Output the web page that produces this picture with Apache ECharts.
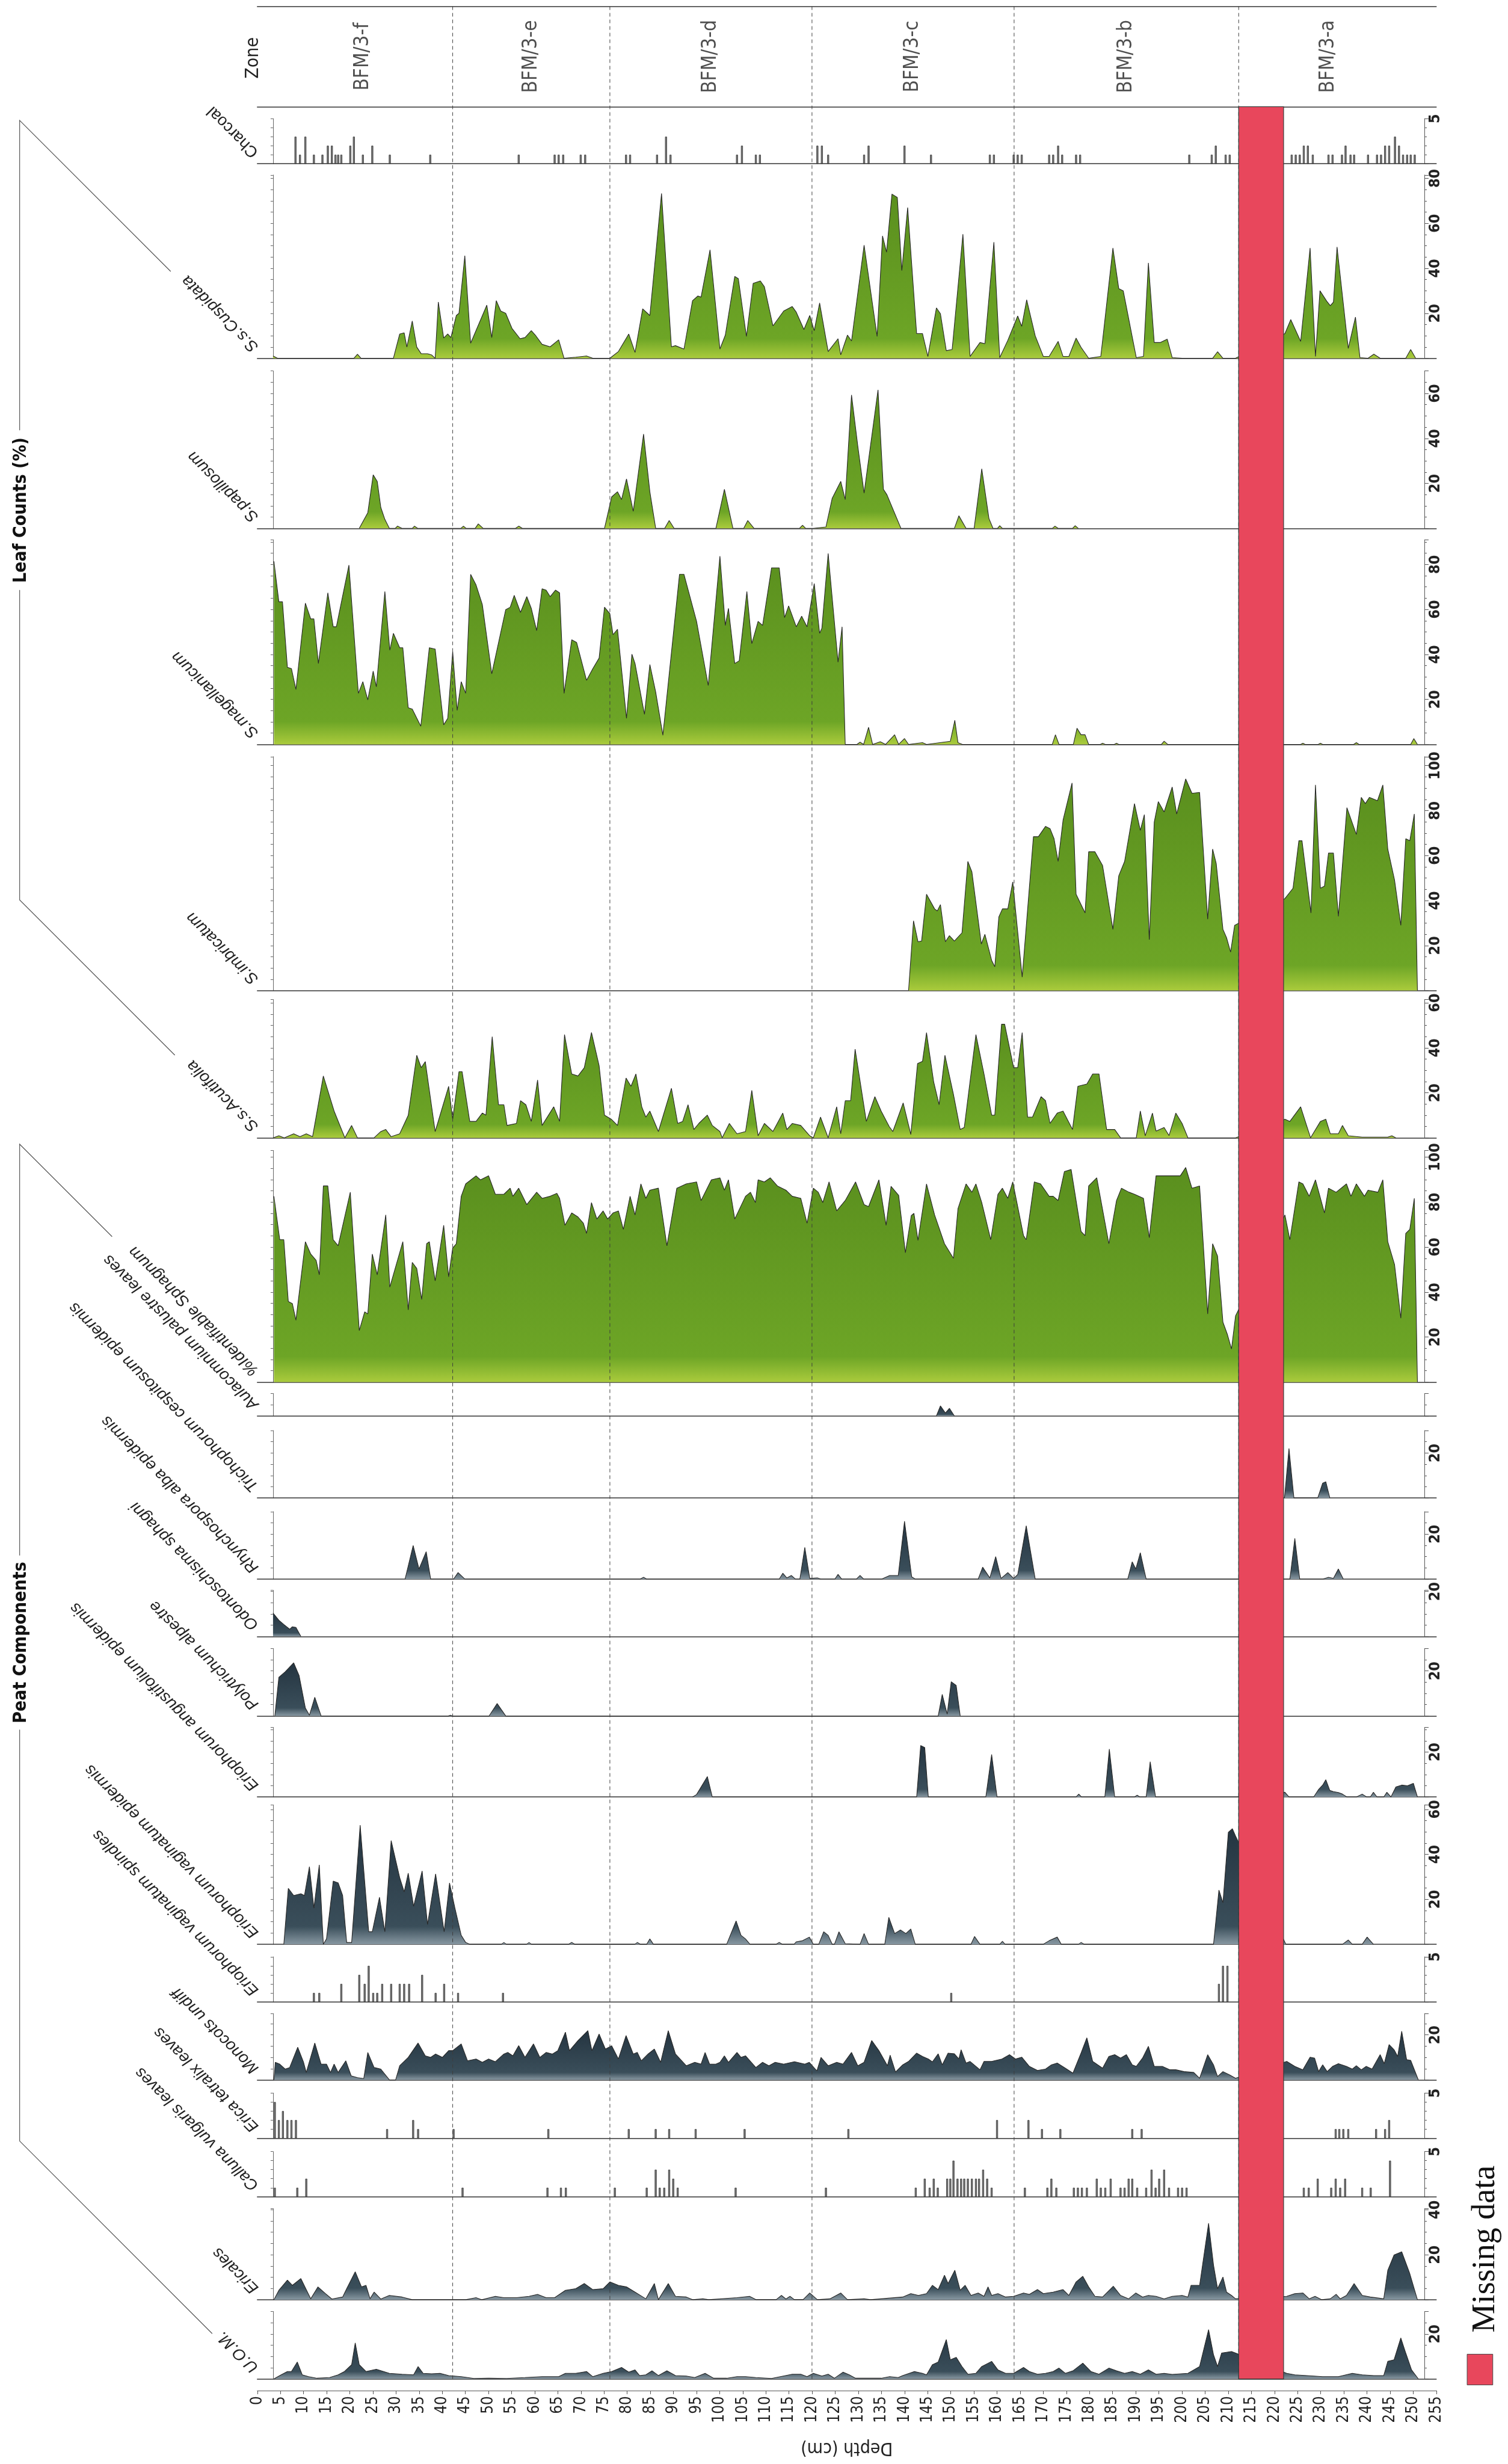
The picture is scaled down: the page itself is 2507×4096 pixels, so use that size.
<!DOCTYPE html>
<html><head><meta charset="utf-8">
<script src="https://cdn.jsdelivr.net/npm/echarts/dist/echarts.min.js"></script>
<style>html,body{margin:0;padding:0;background:#fff}#c{width:2507px;height:4096px}</style>
</head><body><div id="c"></div>
<script>
// ---------------- DATA ----------------
const zoneNames = ['BFM/3-f','BFM/3-e','BFM/3-d','BFM/3-c','BFM/3-b','BFM/3-a'];
const zoneMid = [20, 57.5, 97.5, 142.5, 190, 235];
const zoneBounds = [40, 75, 120, 165, 215];
const missingRange = [215, 225];
const depthMin = 0, depthMax = 255, depthStep = 5;

const taxa = ['Charcoal','S.s.Cuspidata','S.papillosum','S.magellanicum','S.imbricatum','S.s.Acutifolia',
 '%Identifiable Sphagnum','Aulacomnium palustre leaves','Trichophorum cespitosum epidermis','Rhynchospora alba epidermis',
 'Odontoschisma sphagni','Polytrichum alpestre','Eriophorum angustifolium epidermis','Eriophorum vaginatum epidermis',
 'Eriophorum vaginatum spindles','Monocots undiff','Erica tetralix leaves','Calluna vulgaris leaves','Ericales','U.O.M.'];
const axisMax  = [5, 81.5, 70, 91, 104, 61.5, 103, 10, 30, 30, 20.5, 30, 31, 62, 5, 29.5, 5, 5, 40.5, 30];
const axisStep = [5, 20, 20, 20, 20, 20, 20, 20, 20, 20, 20, 20, 20, 20, 5, 20, 5, 5, 20, 20];

const charcoal = [[5,3],[6,1],[7.2,3],[9.1,1],[11,1],[12.2,2],[13.1,2],[13.9,1],[14.5,1],[15.2,1],[17.2,2],[18,3],[20,1],[22.1,2],[26,1],[35,1],[54.7,1],[62.7,1],[63.6,1],[64.6,1],[68.5,1],[69.5,1],[78.6,1],[79.5,1],[85.5,1],[87.5,3],[88.5,1],[103.3,1],[104.4,2],[107.5,1],[108.4,1],[121.2,2],[122.2,2],[123.6,1],[131.6,1],[132.6,2],[140.6,2],[146.5,1],[159.6,1],[160.5,1],[164.9,1],[165.8,1],[166.7,1],[172.8,1],[173.7,1],[174.8,2],[175.7,1],[178.8,1],[179.7,1],[204,1],[209,1],[209.9,2],[212.1,1],[213,1],[226.8,1],[227.7,1],[228.6,1],[229.5,2],[230.4,2],[231.5,1],[235,1],[235.9,1],[238,1],[238.8,2],[239.9,1],[240.7,1],[243.8,1],[245.8,1],[246.7,1],[247.6,2],[248.5,2],[249.8,3],[250.7,2],[251.6,1],[252.5,1],[253.3,1],[254.2,1]];

const cuspidata = [[0,1],[1,0],[18,0],[18.8,1.8],[19.6,0],[26.8,0],[28.2,10.8],[29.2,11.3],[29.8,5],[31,16.6],[32,5],[33,2],[34.4,2],[35.3,1.5],[36.1,0],[36.8,25],[38,9],[38.9,10.8],[39.6,9.2],[40.8,19],[41.4,20],[42.7,45.6],[44,6.7],[47.6,23.6],[48.7,9.2],[49.7,25.6],[50.7,21],[51.8,20],[53.2,13.3],[55,8.7],[56.1,9.2],[57.5,12.3],[58.4,10.3],[59.9,6.2],[61.7,5.1],[63.6,8.2],[64.8,0],[67.4,0.5],[69.8,1],[71.2,0],[75,0],[76.9,3],[79.2,10.8],[80.6,2.6],[82.3,22],[83.9,19],[86.5,73.3],[88.7,5.1],[89.6,5.6],[91.5,4.1],[93.4,25.6],[94.6,27.7],[95.3,27.2],[97.3,48.2],[99.5,4.1],[100.7,10.3],[102.8,36.4],[103.6,35.4],[105.4,9.7],[106.9,33.3],[108.5,34.4],[109.4,31.8],[111.3,14.4],[113.7,21],[115.6,23],[116.5,20.5],[118.2,12.8],[119.5,19],[120.5,12.3],[121.7,24.6],[123.6,3],[125.8,8.7],[126.4,1.5],[127.9,10.3],[128.8,7.7],[131.6,50.3],[134.5,9.7],[135.7,54.4],[136.6,47.2],[137.8,73],[139,71.5],[140,39],[141.3,67],[143.3,11],[144.6,11],[145.8,0.8],[147.7,22.4],[148.6,19.8],[149.9,3.4],[151.2,3.9],[153.6,55.2],[155.2,0.8],[157.4,7],[158.5,6.5],[160.5,51.6],[161.8,0.3],[163.6,8],[165.8,18.8],[166.7,14.2],[167.8,26],[169.7,10],[171.5,0.8],[172.8,0.8],[174.8,7.5],[175.9,0.8],[177.2,0.8],[178.8,9],[179.9,4.9],[181.6,0],[184.3,0.8],[187,49],[188.3,31],[189.3,30],[192.2,0.3],[193.8,0.8],[194.9,42.4],[196.2,7],[197.5,7],[199.1,8.5],[200.2,0.3],[202.4,0],[209.2,0],[210.3,2.9],[211.5,0],[214.3,0],[225.3,11],[226.6,17.2],[228.8,7.5],[230.9,49],[232.1,0.8],[233.1,30],[234.6,25.4],[235.4,23.4],[236.1,25],[236.9,49.5],[239.4,4.4],[241,18.3],[242,0.3],[243.8,0],[245.1,1.8],[246.5,0],[252.2,0],[253.3,3.9],[254.4,0]];

const papillosum = [[19.2,0],[21.1,7],[22.3,23.8],[23.2,20.9],[24,9.3],[24.9,4],[25.9,0],[27.2,0],[27.7,1],[28.7,0],[31,0],[31.5,1],[32.2,0],[41.8,0],[42.4,1],[43,0],[45,0],[45.7,2],[46.8,0],[54,0],[54.7,1],[55.5,0],[73.8,0],[75.4,14],[76.7,16.3],[77.6,12.8],[78.7,22],[80.2,7.6],[82.5,41.9],[83.9,16.3],[85.2,0],[87.2,0],[88.2,3.5],[89.3,0],[98.6,0],[100.5,17.4],[102.4,0],[104.8,0],[105.7,3.5],[107.1,0],[117.2,0],[117.9,1.4],[118.6,0],[120.3,0],[123.1,0.6],[124.5,13.4],[126.4,20.9],[127.4,12.8],[128.8,59.3],[130.2,36.6],[131.6,15.7],[134.7,61.6],[135.9,17.4],[136.7,14.9],[139.8,0],[151.7,0],[152.7,5.6],[154.3,0],[156.1,0],[157.8,26.5],[159.4,4.4],[160.3,0],[161.3,0],[161.8,1.2],[162.4,0],[173.5,0],[174.1,1],[174.8,0],[178,0],[178.6,1.2],[179.3,0]];

const magellanicum = [[0.2,81.4],[1.3,63.4],[2.1,63.4],[3.2,34.3],[4.1,33.7],[5.1,24.4],[7.2,62.8],[8.4,55.8],[9.1,55.8],[10.1,36],[12.2,67.4],[13.4,52.3],[14.1,52.3],[16.9,79.7],[19,22.7],[20,27.9],[21.1,19.8],[22.3,32.6],[23,25.6],[24.9,68],[26,41.9],[26.8,49.4],[28.2,43],[28.9,43],[30.1,16.3],[31,15.7],[32.9,8.1],[34.8,43],[36.1,42.4],[38,8.7],[38.9,11.6],[40,41.3],[41,15.1],[41.9,27.9],[42.9,22.7],[44,75.6],[45.2,70.9],[46.6,62.2],[48.7,31.4],[51.8,59.9],[52.8,61],[53.7,66.3],[55.1,58.7],[56.5,65.7],[57.5,60.5],[58.7,50.6],[59.9,69.2],[60.8,68.6],[61.7,65.7],[62.9,68.6],[63.8,67.4],[64.8,22.7],[66.5,46.5],[67.6,45.3],[69.8,28.5],[71.2,33.7],[72.6,38.4],[73.8,61],[75,58.1],[75.7,48.8],[76.7,51.2],[78.7,11.6],[79.9,40.1],[80.6,36],[82.7,13.4],[83.9,35.5],[85.2,23.3],[86.8,4.1],[90.5,75.6],[91.5,75.6],[94.3,54.7],[96.9,26.2],[99.5,83.7],[100.7,52.9],[101.4,60.5],[102.8,36],[103.8,37.2],[105.5,68],[106.6,44.8],[108,54.7],[109,52.9],[111,78.5],[112.7,78.5],[113.9,56.4],[114.8,61.6],[116.5,52.3],[117.7,57],[118.9,52.3],[120.5,71.5],[121.7,49.4],[122.2,51.7],[123.6,84.9],[125.8,36.6],[126.7,52.3],[127.4,0],[130,0],[130.7,1],[131.5,0],[132.6,7.6],[133.5,0],[135.2,1.2],[136.4,0],[138.4,4.3],[139.3,0],[140.6,2.6],[141.5,0],[144.6,0.8],[145.5,0],[150.8,1.4],[151.8,10.7],[152.5,0.8],[153.5,0],[173.5,0],[174.2,4.3],[175,0],[178.2,0],[179,7.2],[179.9,4.3],[180.8,4.3],[181.6,0],[184.2,0],[184.7,0.5],[185.3,0],[187.3,0],[187.8,0.5],[188.3,0],[197.8,0],[198.4,1.4],[199.2,0],[228.8,0],[229.3,0.5],[229.8,0],[232.7,0],[233.2,0.5],[233.7,0],[240.6,0],[241.2,0.8],[241.8,0],[253.3,0],[254,2.6],[254.8,0]];

const imbricatum = [[141.5,0],[142.6,31],[143.6,21.7],[144.4,22],[145.5,42.8],[147.3,36.3],[147.9,35.4],[148.6,38.2],[149.7,21.7],[150.6,24.4],[151.7,22],[153.4,25.7],[154.7,57.4],[155.6,52.8],[157.7,20.7],[158.5,25],[160,13.4],[160.7,10.6],[161.6,32.7],[162.4,36.3],[163.6,36.3],[164.7,48.3],[166.8,6],[169.3,68.4],[170.4,68.4],[172,73],[173,72],[173.9,67.5],[174.8,57.4],[175.9,75.8],[177.9,92.3],[178.8,42.8],[180.8,34.5],[181.6,61.7],[183,61.7],[184.7,55.6],[187,27.2],[188.3,51],[189.6,57.4],[191.8,83.1],[193.1,71.2],[194,78.2],[195.1,22.6],[196.2,74.9],[197.1,84],[198.4,79.4],[200.2,90.5],[201.2,78.5],[203.2,94.1],[204.6,87.7],[206.3,88.1],[208.1,31.7],[209.2,62.9],[210,56.5],[211.5,27.2],[212.3,23.5],[213.2,17.1],[214.1,29],[225.3,40.9],[227.1,45.5],[228.4,66.6],[229.1,66.6],[231.1,34.5],[232.1,91.4],[233.2,45.5],[234.1,46.4],[235,61.1],[236.1,61.1],[237.2,33],[239.1,81.3],[241.2,69.4],[242.3,85.9],[243.2,83.1],[244.1,85.9],[245.9,84.4],[247.1,91.4],[248.2,62.9],[249.7,49.2],[251.1,29],[252.2,67.5],[253.1,66.6],[254.1,78.5],[254.8,0]];

const acutifolia = [[0,0],[1.3,0.9],[2.5,0],[4.6,1.8],[6,0.5],[7.4,1.8],[8.8,0.5],[11.2,27.5],[13.6,11.9],[16,0],[17.5,5.5],[18.8,0],[22.5,0],[24,2.8],[25.1,3.7],[26.3,0.5],[28.2,1.8],[30.1,10],[32,36.7],[33,31.2],[33.9,33.9],[36.1,2.8],[39.1,22.9],[40,8.3],[41.4,29.4],[42.1,29.4],[43.8,7.3],[45.2,7.3],[46.6,11],[47.4,10.1],[48.8,45],[50.2,14.7],[51.4,14.7],[52.1,5.5],[54.2,6.4],[55.1,16.5],[56.3,14.7],[57.5,7.3],[58.9,25.7],[59.9,5.5],[62.5,13.8],[63.8,7.3],[64.9,45.9],[66.5,28.4],[67.9,27.5],[69.3,31.2],[70.9,46.8],[72.6,32.1],[73.8,10.1],[75.3,8.3],[76.7,5.5],[78.6,26.6],[79.7,22.9],[80.8,28.4],[82.1,13.8],[83,9.2],[83.9,11.9],[85.8,2.8],[88.7,22],[90.1,6.4],[91.2,7.3],[92.4,14.7],[93.7,3.7],[94.8,6.4],[96.7,10.1],[97.8,5.5],[99.5,2.8],[100,0],[101.6,6.4],[103.3,1.8],[105.2,2.8],[106.6,21.1],[108,0.9],[109.4,6.4],[111.3,2.8],[113.5,11],[114.4,3.7],[115.6,6.4],[117.5,5.5],[119.5,0.9],[120.3,0],[121.9,9.2],[123.6,0],[125.5,13.8],[126.4,1.8],[127.4,16.5],[128.6,16.5],[129.6,39.4],[132.1,7.3],[134,18.3],[135.4,11.9],[137.2,5],[138,2.8],[140.3,15.5],[142,1.5],[143.5,33],[144.6,34],[145.5,46.8],[147.1,24.8],[148.3,14.7],[149.6,36.7],[151.5,19.3],[153,3.7],[153.9,4.6],[156.5,45.9],[158.3,28.4],[160,10.1],[160.7,10.1],[162.2,50.5],[162.9,50.5],[164.9,31.2],[165.8,31.2],[166.8,46.8],[168,9.2],[169.1,9.2],[171,18.3],[172,16.5],[173,6.4],[174.6,11],[175.9,11.9],[178,3.7],[179.2,22.9],[181.2,23.9],[182.5,28.4],[183.9,28.4],[185.6,3.7],[187.4,3.7],[188.7,0],[192.2,0],[193.1,11.9],[194.2,0.9],[195.8,11],[196.6,3],[198.4,4.6],[199.5,1],[201,11],[202.4,6.4],[203.7,0],[214.3,0],[225.3,8.3],[226.4,7.3],[228.8,13.8],[231,0],[233.2,7.3],[234.4,8.3],[235.4,1.8],[237.2,1.8],[238.1,5.5],[239.4,0.9],[242.5,0.3],[248.2,0.3],[249.1,0.9],[250,0]];

const identifiable = [[0.2,82.6],[1.5,63.3],[2.4,63.3],[3.4,35.8],[4.3,34.9],[5.1,27.5],[7.2,62.4],[8.4,56.9],[9.6,54.1],[10.3,47.7],[11.2,87.2],[12.2,87.2],[13.4,63.3],[14.5,60.6],[17.2,84.4],[19.2,22.9],[20.4,31.2],[21.1,30.3],[22.1,56.9],[23.2,47.7],[25.1,74.3],[26,42.2],[28.9,62.4],[30.1,32.1],[31,53.2],[32,50.5],[33.1,36.7],[34.2,61.5],[34.8,62.4],[36.1,45],[38,69.7],[39.1,46.8],[40,59.6],[40.8,61.5],[41.9,82.6],[42.9,88.1],[45.2,91.7],[46.2,89.9],[48,91.7],[49.5,83.5],[51.4,83.5],[52.8,86.2],[53.4,82.6],[54.7,86.2],[56.5,78.9],[58.7,84.4],[59.9,81.7],[61.7,82.6],[63.2,83.9],[63.8,81.7],[65,69.7],[66.5,75.2],[67.9,73.4],[69.1,70.6],[69.8,66.1],[70.9,79.8],[72.1,72.5],[73.5,76.1],[74.5,72.5],[75.7,75.2],[76.9,76.1],[78,67.9],[79.5,82.6],[80.6,74.3],[81.9,88.1],[83,81.7],[83.9,85.3],[85.8,86.2],[87.7,60.6],[89.9,86.2],[92,88.1],[94.3,89],[95.3,80.7],[97.6,89.9],[99.5,90.8],[100.5,85.3],[101.4,89.9],[102.8,72.5],[105.2,82.6],[106.3,84.4],[107.4,79.8],[108,89.9],[109.4,89],[110.7,90.8],[112.3,87.2],[114.2,85.3],[115.6,82.6],[117.5,81.7],[118.9,70.6],[120.3,86.2],[121.4,84.4],[122.4,79.8],[123.8,89],[125.5,76.1],[127.4,80.7],[129.7,89],[131.6,78.9],[132.6,78],[134.9,89.9],[136.5,69.7],[137.6,87],[139.3,83],[140.8,57.5],[142.1,74],[142.7,75],[143.6,63],[145.5,88.1],[147.3,74.3],[149.5,61.5],[151.5,55],[152.5,77.1],[154.3,88.1],[155.6,84.4],[156.5,88.1],[157.8,79.8],[159.8,63.3],[161.4,83.5],[162.4,86.2],[163.6,81.7],[164.7,89],[167.1,65.1],[167.7,63.3],[169.5,89],[170.9,88.1],[172.8,82.6],[173.7,82.6],[174.8,80.7],[176.2,93.6],[177.7,94.5],[179.9,67],[180.8,65.1],[181.6,87.2],[183.4,90.8],[186.1,61.5],[187.8,80.7],[188.9,86.2],[190.6,84.4],[191.8,83.5],[193.8,81.7],[195.1,64.2],[196.6,91.7],[198,91.7],[202,91.7],[203.2,95.4],[204.6,86.2],[206.3,87.2],[208.1,30.3],[209.2,61.5],[210.3,56],[211.5,26.6],[212.5,21.1],[213.4,14.7],[214.3,29.4],[225.3,74.3],[226.4,63.3],[228.4,89],[229.3,88.1],[230.7,82.6],[232.1,89.9],[234.1,75.2],[235,86.2],[236.7,84.4],[239,88.1],[240,82.6],[241.2,88.1],[243,82.6],[243.8,85.3],[246,84.4],[247.1,89.9],[248.2,62.4],[249.7,52.3],[251.1,28.4],[252.2,66.1],[253.1,67.9],[254.1,81.7],[254.8,0]];

const aulacomnium = [[147.7,0],[148.6,4.5],[149.7,1.3],[150.6,3.4],[151.7,0]];
const trichophorum = [[225.2,0],[226.2,22],[227.3,0],[232.6,0],[233.7,6.6],[234.4,7.2],[235.3,0]];
const rhynchospora = [[29.4,0],[31.2,14.9],[32.5,4.5],[34.1,12.2],[35.1,0],[40.2,0],[41.2,2.9],[42.7,0],[81.7,0],[82.5,0.8],[83.2,0],[112.7,0],[113.5,2.6],[114.4,0.5],[115.4,1.6],[116.3,0],[117.3,0],[118.4,14.1],[119.5,0.3],[121.2,0.5],[122,0],[125.1,0],[125.8,2.1],[126.6,0],[129.9,0],[130.7,1.6],[131.5,0],[135.5,0],[137.3,1.6],[139.2,1.6],[140.6,25.7],[142.2,1],[143,0],[157,0],[158,5.3],[159.6,0.5],[160.9,10],[162.1,0.3],[163.6,2.9],[164.9,0.3],[165.8,2],[167.7,23.7],[169.7,0],[190.3,0],[191.3,7.7],[192.1,4.5],[193.1,11.7],[194.4,0],[226.4,0],[227.5,18.1],[228.6,0],[233.7,0],[235,0.8],[236.1,0.3],[237.2,4.5],[238.3,0]];
const odontoschisma = [[0,10.4],[1.3,7.2],[2.4,5.3],[3.7,3.2],[4.3,4.3],[5.1,4],[6.2,0]];
const polytrichum = [[0.4,0],[1.3,17.2],[2.7,19.6],[4.6,23.6],[5.8,18],[7.2,3.5],[8.1,0.3],[9.3,8.3],[10.7,0],[39,0],[39.5,0.3],[40,0],[48.1,0],[49.9,5.5],[51.8,0],[148.1,0],[149,9.6],[150.1,0.8],[151,15.2],[152.1,13.6],[153,0]];
const angustifolium = [[93.4,0],[94.3,1.1],[96.7,9.1],[97.8,0],[143.3,0],[144.2,22.9],[145.1,22],[145.9,0],[158.7,0],[160,18.9],[161.2,0],[178.8,0],[179.4,1.3],[180,0],[185.2,0],[186.2,21.3],[187.4,0],[191.8,0],[192.4,0.8],[193,0],[194.4,0],[195.3,15.7],[196.5,0],[214.5,0],[225.3,2.1],[226.2,0],[231.7,0],[232.8,3.4],[233.7,5.3],[234.4,7.7],[235.3,2.9],[236.1,2.4],[237.2,2],[238.1,1.3],[239.1,0],[241.2,0],[242.5,1.3],[243.5,0],[244.3,0],[245,2.1],[245.8,0],[247.3,0],[248,2.1],[248.9,0],[250,4.5],[251.3,5.3],[252.6,5],[253.9,6.1],[254.8,0]];
const vagEpidermis = [[2.4,0],[3.4,24.9],[4.6,21.7],[6.2,22.5],[7,21.7],[8.1,34.5],[9.1,16.1],[10.3,35.3],[11.2,0],[11.9,2.4],[13.4,28.1],[14.5,27.3],[15.5,21.7],[16.4,0.8],[17.5,0.8],[19.4,53],[21.3,5.6],[22.1,5.6],[23.7,20.9],[24.9,5.6],[26.3,46.1],[28.2,29.7],[29.2,23.3],[30.1,31.6],[31.3,16.9],[33.2,32.6],[34.4,8.8],[36.2,31.3],[38.1,5.6],[39.3,27.3],[40.5,16.1],[41.9,4],[42.9,0.8],[43.8,0],[50.8,0],[51.4,0.8],[52,0],[56.4,0],[57,0.8],[57.6,0],[65.8,0],[66.5,0.8],[67.2,0],[80.5,0],[81.1,0.8],[81.8,0],[83.2,0],[83.9,2.4],[84.7,0],[101,0],[103.1,10.4],[104.2,4],[105.2,2.4],[106.2,0],[112,0],[112.7,0.8],[113.4,0],[116,0],[116.5,1.1],[117.9,1.6],[119.4,3.2],[120.3,0],[121.5,0],[122.6,5.6],[123.6,4],[124.5,0],[125,0],[126,5.6],[127.4,0.3],[130.7,0],[131.6,4.8],[132.6,0],[136.2,0],[137.1,12],[138.4,4.8],[139.7,6.4],[140.9,4.8],[142,6.8],[143,0],[155.4,0],[156.2,3.5],[157.4,0],[161.8,0],[162.4,1.3],[163,0],[171.5,0],[172.8,1.6],[174.6,3.2],[175.5,0],[179.3,0],[179.9,0.8],[180.6,0],[209.4,0],[210.6,24.1],[211.5,18.5],[212.7,49.8],[213.6,51.4],[214.3,48.2],[225.5,0],[238.1,0],[239.4,1.9],[240.3,0],[242.5,0],[243.6,3.2],[245,0]];
const vagSpindles = [[9.1,1],[10.3,1],[15.2,2],[19.2,3],[20.4,2],[21.3,4],[22.3,1],[23.2,1],[24.3,2],[26.3,2],[28.2,2],[29.2,2],[30.3,2],[33.2,3],[36.2,1],[38.1,2],[41.2,1],[51.2,1],[151,1],[210.6,2],[211.5,4],[212.5,4]];
const monocots = [[0.2,0],[0.5,7.8],[1.5,7],[2.7,4.8],[3.7,5.5],[5.5,14.5],[6.8,7.8],[7.4,3.3],[9.3,16.4],[10.7,7],[11.9,7],[12.8,3.3],[13.6,7],[14.5,3.3],[16.2,8.5],[17.4,1.8],[18.8,1],[20.2,0.6],[21.1,12.2],[22.5,5.5],[24,4.8],[25.9,0],[27.3,0],[28.2,6.3],[30.1,10],[32.3,16.4],[33.9,10.7],[35.1,10],[36.2,11.5],[37.7,10],[39.1,13],[40,13],[41.9,16],[43.3,8.5],[45.2,9.3],[46.6,7.8],[48,9.3],[49.5,8.1],[51.4,11.5],[52.3,12.2],[53.4,10.7],[54.7,15.2],[56.1,10],[58,16],[59.4,10],[60.8,12.2],[62.2,11.5],[63.4,13],[65.1,21.2],[66,13],[67.9,17.5],[70.1,21.9],[71,13],[72.6,20.4],[74,13.7],[75.4,15.2],[76.9,9.3],[78.6,19.7],[80.2,11.5],[81.1,12.2],[82,8.5],[83.5,11.5],[84.9,13.7],[86.3,7.8],[88,21.9],[89.6,11.5],[92,6.3],[93.9,7.8],[95.3,7],[96.2,12.2],[97.2,7],[98.6,7],[99.5,7.8],[100.5,10.7],[101.4,7.8],[103.3,12.2],[104.2,10],[105.2,10.7],[107.5,5.5],[109,7.8],[110.4,6.3],[111.8,7.8],[113.7,7],[116.1,8.1],[118.4,7],[119.4,7.8],[121.1,4],[122,10],[123.6,6.3],[125.5,7.8],[126.9,7],[128.8,12.2],[130.2,6.3],[131.6,7.8],[133.3,17.5],[134.9,13],[136.8,6.3],[137.4,11],[138.6,3.5],[140.2,6.7],[141.5,8.2],[143.3,11.9],[144.6,10.4],[145.9,9.3],[146.8,8],[148.1,11.6],[149,6.7],[150.3,11.9],[151.7,11.6],[152.7,9.3],[153.2,13.4],[154.3,7.5],[155.2,8.2],[157.4,4.5],[158.3,8.2],[160,8.2],[162.3,9.3],[164,11.2],[165.3,9.3],[166.7,10.1],[168.4,6],[170.2,4.2],[172,4.8],[173.3,6.7],[174.6,7.5],[176.4,5.2],[178.1,3],[179.9,11.9],[181.2,18.7],[182.5,8.2],[184.7,5.2],[186.1,10.4],[187.4,11.2],[188.7,9.7],[190,11.2],[191.3,6.7],[192.2,6],[193.6,9.7],[194.9,14.9],[196.2,6],[198,6],[199.7,4.5],[201,4.5],[202.8,3.7],[205,3.3],[206.3,0.7],[208.1,11.2],[209.4,6.7],[210.3,1.5],[211.5,3.7],[213,2.2],[214.3,0.7],[225.7,8.2],[227.5,6],[229.3,4.5],[230.9,10.1],[231.9,9.7],[232.8,3.7],[233.7,6.7],[234.7,3.7],[235.9,6],[237.2,7.2],[239,6],[240.3,4.8],[241.2,6.3],[242.3,4.5],[243.4,6],[244.7,4.8],[246.5,11.2],[247.4,7.2],[248.5,15.7],[249.6,13.4],[250.4,10.4],[251.3,21.6],[252.4,9],[253.3,8.7],[255,0]];
const erica = [[0.4,4],[1.3,2],[2.2,3],[3.2,2],[4.1,2],[5.1,2],[25.4,1],[31.2,2],[32.3,1],[40.2,1],[61.3,1],[79.2,1],[85.2,1],[88.2,1],[94.1,1],[105,1],[128.1,1],[161.2,2],[168.2,2],[171.2,1],[175.3,1],[191.3,1],[193.4,1],[236.6,1],[237.4,1],[238.3,1],[239.4,1],[245.6,1],[247.6,1],[248.5,2]];
const calluna = [[0.4,1],[5.4,1],[7.4,2],[42.2,1],[61.1,1],[64.1,1],[65.2,1],[76.1,1],[83.2,1],[85.2,3],[86.1,1],[87.1,1],[88.2,3],[89.1,2],[90.1,1],[103,1],[123.1,1],[143.1,1],[145.1,2],[146.2,1],[147.1,2],[148,1],[150.1,2],[150.8,2],[151.5,4],[152.4,2],[153.2,2],[153.9,2],[154.7,2],[155.6,2],[156.5,2],[157.2,2],[158.1,3],[159,2],[160,1],[167.4,1],[172.4,1],[173.3,2],[174.4,1],[178.3,1],[179.2,1],[180.1,1],[181.2,1],[183.4,2],[184.3,1],[185.3,1],[186.5,2],[188.7,1],[189.6,1],[190.5,2],[191.3,2],[192.4,1],[194.4,1],[195.6,3],[196.5,1],[197.3,2],[198.4,3],[199.5,1],[201.5,1],[202.4,1],[203.4,1],[229.5,1],[230.6,1],[232.6,2],[235.6,1],[236.6,2],[237.6,1],[238.7,2],[242.5,1],[244.4,1],[248.7,4]];
const ericales = [[0.2,0],[1.3,4.2],[3.2,8.7],[4.3,6.4],[6.2,9.4],[8.4,0.4],[10,5.7],[11.7,2.7],[13.1,0.3],[15.5,1.2],[16.4,4.9],[18.3,12.4],[19.7,5.7],[20.7,6.4],[21.6,0.4],[22.5,3.4],[24,0.3],[25.9,1.9],[28.7,1.2],[31,0],[42.9,0],[45.2,0.9],[46.5,0],[49.5,1.5],[51.4,0.9],[54.2,0.9],[57,1.5],[58.9,2.4],[60.8,0.9],[62.7,0.9],[65.1,4.2],[67.4,4.9],[69.3,7.2],[71.2,4.5],[73.5,4.9],[75,7.9],[76.9,6.4],[78.7,5.7],[80.6,3.4],[83,0.4],[84.9,7.2],[85.8,0],[88,7.2],[89.6,1.5],[92,1.2],[93.5,0],[95.7,0.4],[97,0],[103.3,0.9],[106.1,1.5],[107.6,0],[112,0],[113.2,1.9],[114.2,0.3],[115.1,1.5],[116.1,0],[118,0],[119.5,3],[121.2,0],[124,0.4],[126.4,3],[127.9,0],[131.6,0.4],[133,0],[140.2,1.2],[142,2.7],[143.7,1.9],[145.5,2.7],[146.8,6.4],[148.1,4.5],[149.5,10.9],[150.3,7.2],[151.8,13.1],[153,4.2],[154.1,6.4],[155.4,1.9],[157,3],[158.3,1.5],[159.2,5.7],[160,1.9],[161.4,2.7],[163.1,1.2],[164.9,1.5],[167.1,3],[168.4,2.4],[170.2,4.5],[171.5,2.7],[173.7,3.4],[175.9,4.5],[177.2,1.9],[178.8,7.9],[180.3,10.4],[181.6,5.7],[183,1.5],[184.7,1.2],[187.1,6],[188.7,1.9],[190.5,0.4],[192.1,3],[193.6,1.2],[194.9,1.9],[196.6,1.5],[198.4,0.4],[200.2,1.5],[202.4,1.9],[203.7,1.2],[204.4,6.4],[206.3,6.4],[208.3,34],[209.4,15.4],[210.3,4.9],[211.5,10.1],[212.3,3.4],[213.4,1.9],[214.3,0.4],[225.7,1.5],[227.5,2.7],[229.3,3],[230.7,0.4],[232,1.5],[233.5,0],[235.4,0.4],[236.7,2.4],[237.6,0.4],[239,1.9],[240.7,7.2],[242.5,1.9],[244.3,1.2],[247.3,0.4],[248.2,13.1],[249.6,19.9],[251.3,21.3],[253.1,11.6],[254.8,0]];
const uom = [[0.2,0],[1.8,1.8],[3.2,3.3],[4.1,3.3],[5.4,7.5],[6.5,1.8],[7.9,1],[9.8,0.3],[12.6,0.6],[14.5,1.8],[15.9,3.3],[17.5,6.3],[18.3,16],[19.2,6.3],[20.7,3.3],[23,4.3],[25.9,2.5],[28.7,2.1],[31.3,1.8],[32.3,5.5],[33.4,2.5],[35.3,2.3],[37.2,2.5],[39.1,1.5],[41.9,1],[44.7,0.2],[48,0.3],[52,0.2],[56.1,0.6],[59.9,1],[63.6,1],[65.1,2.5],[67.4,2.5],[69.8,3.3],[71.2,1],[73.5,2.5],[75.4,3.3],[77.6,5.1],[79.2,3],[80.6,4],[81.6,1.5],[83,1.8],[84.4,3.6],[85.8,1.5],[87.7,3.6],[89.6,1.5],[92,1.3],[93.9,0.6],[96.2,2.5],[98.1,0.3],[101,0.3],[103.3,1],[105.2,1],[107.5,0.6],[111,0.2],[115.6,2.1],[117.5,2.1],[118.9,1],[120.3,2.5],[122.2,1.3],[123.6,2.1],[125,0.3],[126.9,3],[128.3,1.8],[129.7,0.3],[135.4,0.3],[137.3,1],[139.2,0.6],[140.2,1.5],[142.8,3.3],[144.6,2.5],[145.5,1.8],[146.8,6.3],[148.1,7.5],[149.9,17.5],[150.8,8.5],[152.1,9.6],[153.4,5.5],[154.7,2.1],[156.5,2.5],[157.8,5.5],[160,7.8],[161.4,4],[163.1,2.5],[164.9,2.5],[167.1,5.1],[168.4,3.3],[170.2,2.1],[172,2.5],[173.7,3.3],[175,4.8],[176.4,2.5],[178.1,3.6],[180.3,7],[182.1,3.3],[183.9,2.1],[186.1,4.8],[187.8,3.6],[189.6,2.5],[191.3,3.3],[193.1,2.1],[194.9,4],[196.6,2.1],[198.4,2.5],[200.2,2],[203.7,2.5],[206.3,5.5],[208.3,21.9],[209.4,10.7],[210.3,5.5],[211.2,11.5],[213.4,12.2],[214.3,11.5],[225.7,2.5],[227.5,1.8],[230.2,1.5],[233.7,1],[237.2,1],[240.3,2.5],[242.5,1.8],[245.1,1.5],[247.3,1.5],[248.2,7.8],[249.6,8.5],[251.1,18.2],[252.2,11.5],[253.5,4],[255,0]];

const seriesData = [charcoal, cuspidata, papillosum, magellanicum, imbricatum, acutifolia, identifiable,
  aulacomnium, trichophorum, rhynchospora, odontoschisma, polytrichum, angustifolium, vagEpidermis,
  vagSpindles, monocots, erica, calluna, ericales, uom];
const seriesKind = ['bar','green','green','green','green','green','green',
  'dark','dark','dark','dark','dark','dark','dark','bar','dark','bar','bar','dark','dark'];

// ---------------- LAYOUT (reference pixel units, scaled) ----------------
const S = 2507 / 4761;
const REF = { depth0: 862, pxPerCm: 14.18, pctPx: 7.1, cntPx: 28.5, labelX: 808, labelUp: 28,
  zoneTop: 20, zoneBottom: 337, depthAxisY: 7547, axisInset: 37.6, bracketX: 62 };
const panelBase = [517, 1131, 1668, 2350, 3127, 3592, 4363, 4470, 4729, 4985, 5166, 5417, 5673, 6138, 6320, 6566, 6750, 6935, 7260, 7510];
const XMIN = -3.5, XMAX = 259;
const X0 = REF.depth0 * S, PX = REF.pxPerCm * S;
const gridLeft = X0 + XMIN * PX, gridWidth = (XMAX - XMIN) * PX;
const INSET = REF.axisInset * S;

const LINE = '#333';
const NARROW = '"Liberation Sans Narrow","Arial Narrow","DejaVu Sans Condensed",sans-serif';
const SANS = '"Liberation Sans",Arial,sans-serif';
const SERIF = '"Liberation Serif","Times New Roman",serif';
const RED = '#E8475C';

const greenFill = new echarts.graphic.LinearGradient(0,0,0,1,[{offset:0,color:'#5A8F1E'},{offset:0.88,color:'#6DA526'},{offset:1,color:'#AACB3C'}]);
const darkFill = new echarts.graphic.LinearGradient(0,0,0,1,[{offset:0,color:'#243440'},{offset:0.85,color:'#3A4E5A'},{offset:1,color:'#8797A1'}]);

const grid = [], xAxis = [], yAxis = [], series = [];
function addGrid(top, height){ grid.push({left:gridLeft, width:gridWidth, top:top, height:height, containLabel:false, outerBoundsMode:'none'}); return grid.length-1; }
function hiddenX(g){ xAxis.push({gridIndex:g, type:'value', min:XMIN, max:XMAX, show:false}); return xAxis.length-1; }
function hiddenY(g){ yAxis.push({gridIndex:g, type:'value', min:0, max:1, show:false}); return yAxis.length-1; }
const baseLineX = (g, pos) => ({gridIndex:g, type:'value', min:XMIN, max:XMAX, position:pos,
  axisLine:{show:true, onZero:false, lineStyle:{color:LINE, width:1.6}}, axisTick:{show:false}, axisLabel:{show:false}, splitLine:{show:false}});

// zone strip
const gZone = addGrid(REF.zoneTop*S, (REF.zoneBottom-REF.zoneTop)*S);
xAxis.push(baseLineX(gZone,'bottom')); const xZone = xAxis.length-1;
xAxis.push(baseLineX(gZone,'top'));
const yZone = hiddenY(gZone);
series.push({type:'scatter', xAxisIndex:xZone, yAxisIndex:yZone, silent:true, symbolSize:1,
  itemStyle:{color:'rgba(0,0,0,0)'},
  data: zoneMid.map((m,i)=>[m, 0.5, zoneNames[i]]),
  label:{show:true, position:'inside', rotate:90, formatter:p=>p.value[2], color:'#222', fontSize:33, fontFamily:NARROW}});

// panels
taxa.forEach((name, i) => {
  const unit = seriesKind[i]==='bar' ? REF.cntPx : REF.pctPx;
  const base = panelBase[i];
  const top = base - axisMax[i]*unit;
  const g = addGrid(top*S, (base-top)*S);
  xAxis.push(baseLineX(g,'bottom')); const xi = xAxis.length-1;
  const step = axisStep[i];
  const minorSplit = step===5 ? 5 : 4;
  yAxis.push({gridIndex:g, type:'value', position:'left', offset:-INSET, min:0, max:axisMax[i], interval:step,
    axisLine:{show:true, lineStyle:{color:'#666', width:1}},
    axisTick:{show:true, length:4, lineStyle:{color:'#666', width:1}},
    minorTick:{show:true, splitNumber:minorSplit, length:4, lineStyle:{color:'#666', width:1}},
    axisLabel:{show:false}, splitLine:{show:false}, minorSplitLine:{show:false}});
  yAxis.push({gridIndex:g, type:'value', position:'right', offset:-INSET, min:0, max:axisMax[i], interval:step,
    axisLine:{show:true, lineStyle:{color:'#555', width:1}},
    axisTick:{show:true, length:7, lineStyle:{color:'#555', width:1}},
    minorTick:{show:true, splitNumber:minorSplit, length:4, lineStyle:{color:'#555', width:1}},
    axisLabel:{show:true, rotate:90, margin:6, color:'#222', fontSize:25, fontWeight:'bold', fontFamily:NARROW,
      formatter: v => (v>0 && Math.abs(v % step) < 1e-6) ? String(v) : ''},
    splitLine:{show:false}, minorSplitLine:{show:false}});
  const yi = yAxis.length-1;
  if (seriesKind[i]==='bar') {
    series.push({type:'bar', name, xAxisIndex:xi, yAxisIndex:yi, data:seriesData[i], barWidth:3.2, silent:true, z:3,
      itemStyle:{color:'#7a7a7a', borderColor:'#2e2e2e', borderWidth:0.8}});
  } else {
    series.push({type:'line', name, xAxisIndex:xi, yAxisIndex:yi, data:seriesData[i], symbol:'none', silent:true, z:3,
      lineStyle:{color:'#262626', width:1.1}, areaStyle:{color: seriesKind[i]==='green' ? greenFill : darkFill, opacity:1}});
  }
});

// depth axis
const gDepth = addGrid(REF.depthAxisY*S - 1, 1);
xAxis.push({gridIndex:gDepth, type:'value', min:depthMin, max:depthMax, interval:depthStep, position:'bottom',
  axisLine:{show:true, onZero:false, lineStyle:{color:'#555', width:1.2}},
  axisTick:{show:true, length:6, lineStyle:{color:'#555'}},
  axisLabel:{show:true, rotate:90, margin:9, color:'#222', fontSize:26, fontFamily:NARROW},
  splitLine:{show:false},
  name:'Depth (cm)', nameLocation:'middle', nameRotate:180, nameGap:80,
  nameTextStyle:{fontSize:30, fontFamily:NARROW, color:'#222'}});
const xDepth = xAxis.length-1; const yDepth = hiddenY(gDepth);
series.push({type:'line', xAxisIndex:xDepth, yAxisIndex:yDepth, data:[], silent:true});

// missing-data band (custom series so it stacks above the panels)
const gBand = addGrid(REF.zoneBottom*S, (panelBase[panelBase.length-1]-REF.zoneBottom)*S);
const xBand = hiddenX(gBand), yBand = hiddenY(gBand);
series.push({type:'custom', xAxisIndex:xBand, yAxisIndex:yBand, silent:true, z:20, clip:false,
  data:[[missingRange[0], missingRange[1]]],
  renderItem:(params, api) => {
    const p0 = api.coord([api.value(0), 1]);
    const p1 = api.coord([api.value(1), 0]);
    return {type:'rect', shape:{x:p0[0], y:p0[1], width:p1[0]-p0[0], height:p1[1]-p0[1]},
      style:{fill:RED, stroke:'#3a3a3a', lineWidth:1.2}};
  }});

// zone boundaries
const gLines = addGrid(REF.zoneTop*S, (panelBase[panelBase.length-1]-REF.zoneTop)*S);
const xLines = hiddenX(gLines), yLines = hiddenY(gLines);
series.push({type:'custom', xAxisIndex:xLines, yAxisIndex:yLines, silent:true, z:25, clip:false,
  data: zoneBounds.map(b => [b, 0]),
  renderItem:(params, api) => {
    const a = api.coord([api.value(0), 0]), b = api.coord([api.value(0), 1]);
    return {type:'line', shape:{x1:a[0], y1:a[1], x2:b[0], y2:b[1]},
      style:{stroke:'#3d3d3d', lineWidth:1, lineDash:[6,5], fill:null}};
  }});

// ---------------- graphic (labels, brackets, legend) ----------------
const graphic = [];
taxa.forEach((name,i) => {
  graphic.push({type:'text', x:REF.labelX*S, y:(panelBase[i]-REF.labelUp)*S, rotation:3*Math.PI/4, silent:true,
    style:{text:name, fill:'#222', font:(i===0?'':'italic ')+'27px '+SANS, align:'left', verticalAlign:'middle',
      textAlign:'left', textVerticalAlign:'middle'}});
});
graphic.push({type:'text', x:800*S, y:183*S, rotation:Math.PI/2, silent:true,
  style:{text:'Zone', fill:'#222', font:'30px '+NARROW, align:'center', verticalAlign:'middle', textAlign:'center', textVerticalAlign:'middle'}});

function labelLineY(i, xRef){ return panelBase[i] - (813 - xRef); }
function bracket(iTop, iBot, endTop, endBot, text, halfBreak){
  const bx = REF.bracketX;
  const yT = labelLineY(iTop, bx), yB = labelLineY(iBot, bx);
  const mid = (yT + yB)/2;
  const P = (x,y)=>[x*S, y*S];
  graphic.push({type:'polyline', silent:true, shape:{points:[P(endTop, labelLineY(iTop,endTop)), P(bx,yT), P(bx, mid-halfBreak)]},
    style:{stroke:'#555', lineWidth:1.2, fill:null}});
  graphic.push({type:'polyline', silent:true, shape:{points:[P(bx, mid+halfBreak), P(bx,yB), P(endBot, labelLineY(iBot,endBot))]},
    style:{stroke:'#555', lineWidth:1.2, fill:null}});
  graphic.push({type:'text', x:(bx+4)*S, y:mid*S, rotation:Math.PI/2, silent:true,
    style:{text, fill:'#111', font:'bold 30px '+NARROW, align:'center', verticalAlign:'middle', textAlign:'center', textVerticalAlign:'middle'}});
}
bracket(1, 5, 539, 552, 'Leaf Counts (%)', 252);
bracket(6, 19, 354, 670, 'Peat Components', 275);

graphic.push({type:'rect', silent:true, shape:{x:4632*S, y:7432*S, width:81*S, height:97*S},
  style:{fill:RED, stroke:'#444', lineWidth:1}});
graphic.push({type:'text', x:4691*S, y:7100*S, rotation:Math.PI/2, silent:true,
  style:{text:'Missing data', fill:'#111', font:'54px '+SERIF, align:'center', verticalAlign:'middle', textAlign:'center', textVerticalAlign:'middle'}});

const chart = echarts.init(document.getElementById('c'), null, {renderer:'canvas'});
chart.setOption({animation:false, backgroundColor:'#fff', grid, xAxis, yAxis, series, graphic});
</script></body></html>
